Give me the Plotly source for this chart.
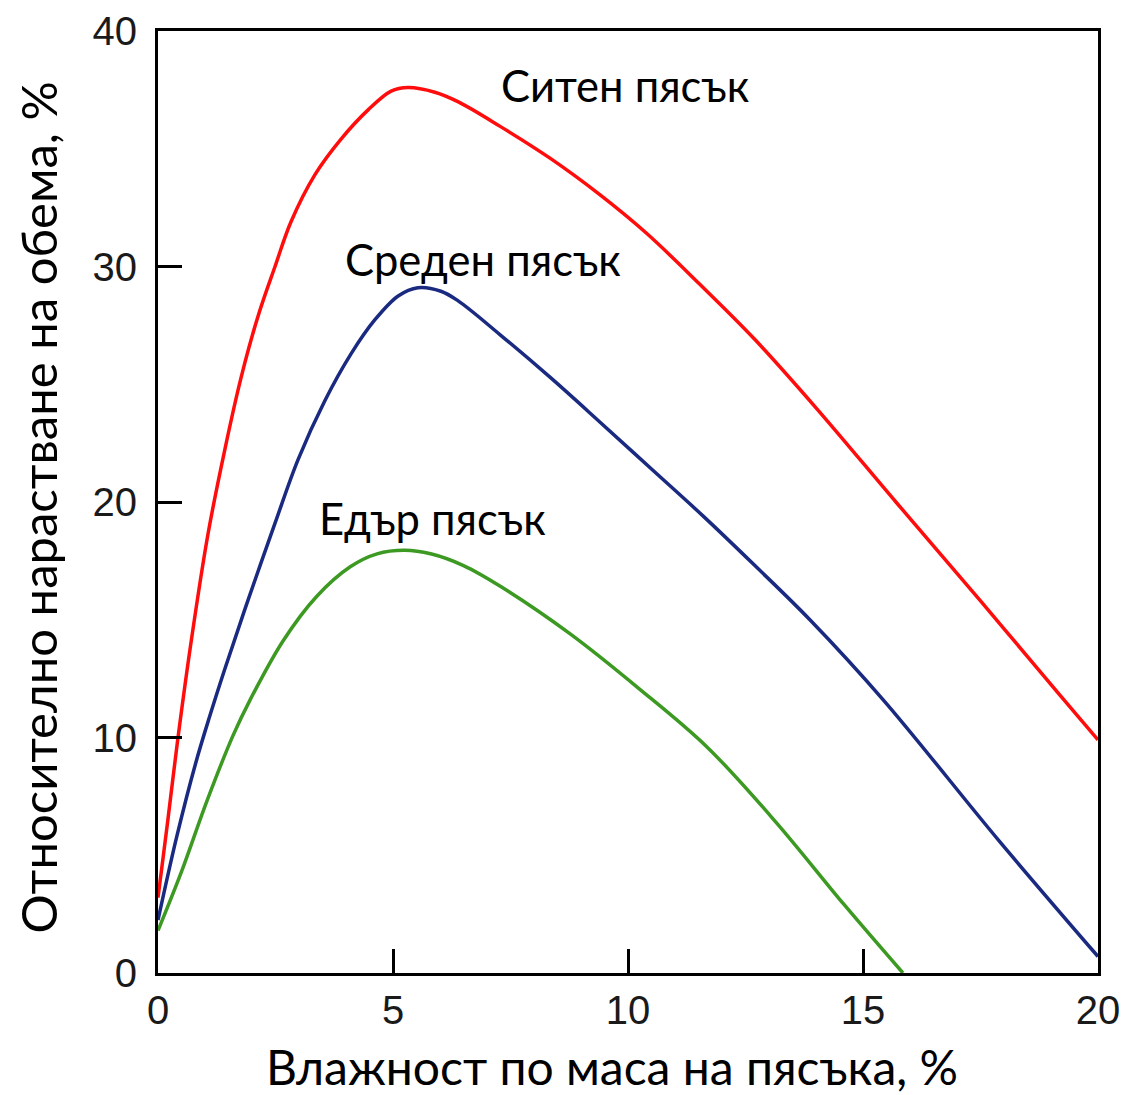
import plotly.graph_objects as go

fine_x = [0, 0.21, 0.4, 0.7, 1.06, 1.43, 1.77, 2.13, 2.49, 2.83, 3.34, 3.89, 4.47, 4.96, 5.32, 5.89, 6.38, 7.28, 8.34, 9.4, 10.4, 11.5, 12.7, 14.0, 15.7, 17.5, 19.19, 20.0]
fine_y = [3.2, 6.5, 9.6, 14.0, 18.6, 22.3, 25.3, 27.9, 30.0, 31.9, 33.9, 35.4, 36.65, 37.45, 37.6, 37.4, 37.0, 35.95, 34.6, 33.05, 31.4, 29.3, 26.9, 24.0, 20.0, 15.8, 11.8, 9.9]

medium_x = [0, 0.4, 0.8, 1.1, 1.42, 1.91, 2.49, 2.98, 3.55, 4.11, 4.62, 5.11, 5.53, 6.02, 6.38, 7.28, 8.34, 9.4, 10.5, 11.6, 12.7, 13.87, 15.43, 17.9, 20.0]
medium_y = [2.25, 5.8, 8.9, 10.9, 12.9, 15.8, 19.1, 21.8, 24.3, 26.3, 27.75, 28.75, 29.1, 28.95, 28.55, 27.1, 25.3, 23.4, 21.4, 19.4, 17.3, 15.0, 11.6, 5.6, 0.7]

coarse_x = [0, 0.5, 1.04, 1.6, 1.96, 2.66, 3.38, 4.09, 4.66, 5.25, 5.8, 6.5, 7.30, 8.77, 10.22, 11.68, 13.15, 14.6, 15.85]
coarse_y = [1.8, 4.3, 7.3, 10.1, 11.6, 14.1, 16.0, 17.25, 17.8, 17.95, 17.8, 17.3, 16.4, 14.4, 12.1, 9.6, 6.4, 2.9, 0.0]

series_names = ["Ситен пясък", "Среден пясък", "Едър пясък"]
series_colors = ["#ff0d0d", "#1a2a80", "#3c9a22"]

x_ticks = [0, 5, 10, 15, 20]
y_ticks = [0, 10, 20, 30, 40]

x_title = "Влажност по маса на пясъка, %"
y_title = "Относително нарастване на обема, %"

label_font = "Lato, 'Open Sans', sans-serif"
tick_font = "'Liberation Sans', Arial, sans-serif"

fig = go.Figure()
for xs, ys, name, col in zip([fine_x, medium_x, coarse_x], [fine_y, medium_y, coarse_y], series_names, series_colors):
    fig.add_trace(go.Scatter(x=xs, y=ys, mode="lines", name=name,
                             line=dict(color=col, width=3.5, shape="spline", smoothing=1.0),
                             showlegend=False, cliponaxis=True))

# curve labels
label_pos = [(9.94, 37.7), (6.91, 30.3), (5.85, 19.3)]
for (lx, ly), name in zip(label_pos, series_names):
    fig.add_annotation(x=lx, y=ly, text=name, showarrow=False,
                       font=dict(family=label_font, size=43.5, color="black"),
                       xanchor="center", yanchor="middle")

# axis titles
fig.add_annotation(xref="paper", yref="paper", x=0.483, y=-0.099, text=x_title, showarrow=False,
                   font=dict(family=label_font, size=48, color="black"), xanchor="center", yanchor="middle")
fig.add_annotation(xref="paper", yref="paper", x=-0.1277, y=0.494, text=y_title, showarrow=False, textangle=-90,
                   font=dict(family=label_font, size=49, color="black"), xanchor="center", yanchor="middle")

axis_common = dict(showline=True, linecolor="black", linewidth=3, mirror=True,
                   ticks="inside", ticklen=24, tickwidth=3, tickcolor="black",
                   showgrid=False, zeroline=False,
                   tickfont=dict(family=tick_font, size=40, color="#1a1a1a"))

fig.update_xaxes(range=[0, 20], tickvals=x_ticks, ticktext=[str(v) for v in x_ticks], **axis_common)
fig.update_yaxes(range=[0, 40], tickvals=y_ticks, ticktext=[str(v) for v in y_ticks],
                 ticklabelstandoff=10, **axis_common)

# page body has an 8px margin, so the figure is sized to fit the 1132x1095 window
fig.update_layout(width=1124, height=1087, paper_bgcolor="white", plot_bgcolor="white",
                  margin=dict(l=150, r=34, t=23, b=122, autoexpand=False))

fig.write_html("out.html")
